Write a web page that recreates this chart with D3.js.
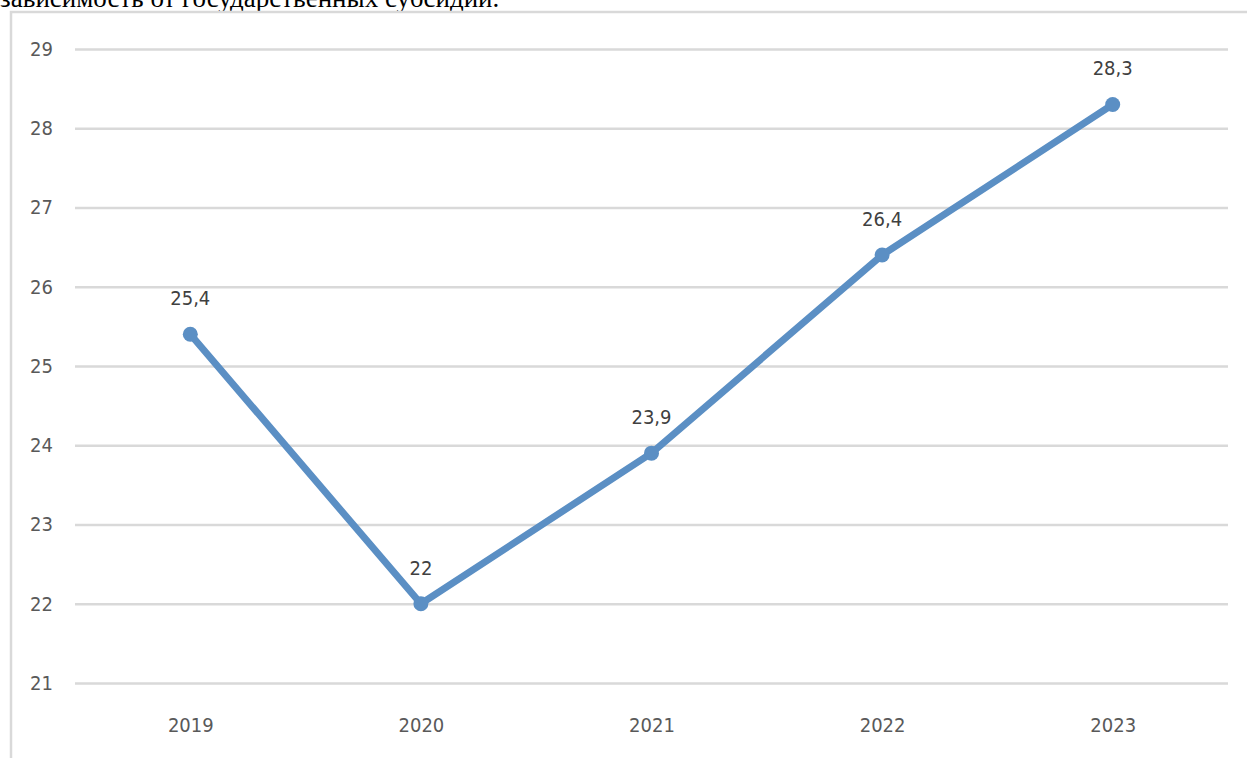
<!DOCTYPE html>
<html><head><meta charset="utf-8">
<script src="https://cdn.jsdelivr.net/npm/d3@7"></script>
<style>body{margin:0;background:#fff;overflow:hidden}</style>
</head><body>
<script>
const categories = ["2019","2020","2021","2022","2023"];
const values = [25.4, 22, 23.9, 26.4, 28.3];
const valueLabels = ["25,4","22","23,9","26,4","28,3"];
const yTicks = [21,22,23,24,25,26,27,28,29];
const headText = "зависимость от государственных субсидий.";

const W = 1247, H = 758;
const svg = d3.select("body").append("svg").attr("width", W).attr("height", H);

svg.append("text").attr("x", 0).attr("y", 7)
  .attr("font-family", "'Liberation Serif','Times New Roman',serif")
  .attr("font-size", 27).attr("fill", "#000").text(headText);

// chart frame
svg.append("rect").attr("x", 11).attr("y", 12).attr("width", W + 10).attr("height", H + 10)
  .attr("fill", "#fff").attr("stroke", "#d9d9d9").attr("stroke-width", 2.5);

const left = 75, right = 1228;
const x = d3.scalePoint().domain(categories).range([left, right]).padding(0.5);
const y = d3.scaleLinear().domain([21, 29]).range([683, 49]);

const font = "'DejaVu Sans Condensed','Liberation Sans Narrow','DejaVu Sans',sans-serif";

// gridlines
const yAxis = d3.axisLeft(y).tickValues(yTicks).tickSize(-(right - left)).tickPadding(22).tickFormat(d3.format("d"));
const gy = svg.append("g").attr("transform", `translate(${left},0)`).call(yAxis);
gy.select(".domain").remove();
gy.selectAll(".tick line").attr("stroke", "#d9d9d9").attr("stroke-width", 2.5);
gy.selectAll(".tick text").attr("font-family", font).attr("font-size", 20).attr("fill", "#595959");

const xAxis = d3.axisBottom(x).tickSize(0).tickPadding(0);
const gx = svg.append("g").attr("transform", `translate(0,${y(21)})`).call(xAxis);
gx.select(".domain").remove();
gx.selectAll(".tick text").attr("font-family", font).attr("font-size", 20).attr("fill", "#595959")
  .attr("dy", 0).attr("y", 49);

const line = d3.line().x((d, i) => x(categories[i])).y(d => y(d));
svg.append("path").datum(values).attr("d", line)
  .attr("fill", "none").attr("stroke", "#5b8fc4").attr("stroke-width", 7)
  .attr("stroke-linejoin", "round").attr("stroke-linecap", "round");

svg.selectAll("circle.pt").data(values).join("circle").attr("class", "pt")
  .attr("cx", (d, i) => x(categories[i])).attr("cy", d => y(d)).attr("r", 7.5)
  .attr("fill", "#5b8fc4");

svg.selectAll("text.lbl").data(values).join("text").attr("class", "lbl")
  .attr("x", (d, i) => x(categories[i])).attr("y", d => y(d) - 29)
  .attr("text-anchor", "middle").attr("font-family", font).attr("font-size", 20)
  .attr("fill", "#404040").text((d, i) => valueLabels[i]);
</script>
</body></html>
